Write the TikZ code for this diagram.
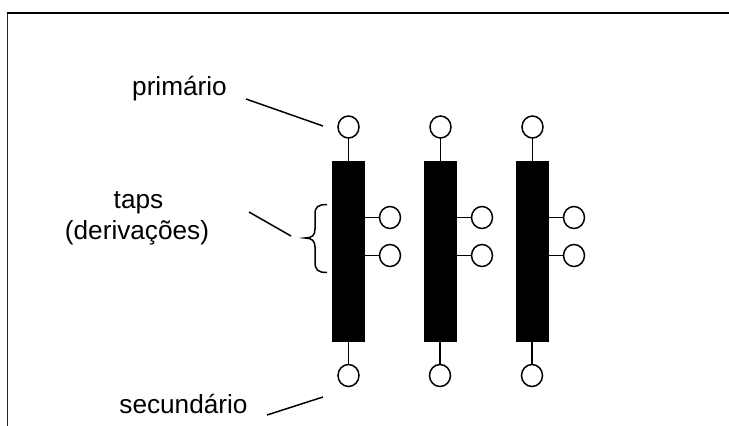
\documentclass[tikz,border=0pt]{standalone}
\usepackage{fontspec}
\setmainfont{Liberation Sans}
\usetikzlibrary{shapes.geometric}
\tikzset{
  wire/.style={line width=1.5pt,black},
  core/.style={draw=none,fill=black,minimum width=33pt,minimum height=181pt,inner sep=0pt,outer sep=0pt},
  term/.style={ellipse,draw=black,line width=1.5pt,fill=white,minimum width=21pt,minimum height=22pt,inner sep=0pt,outer sep=0pt},
  lab/.style={font=\fontsize{26.2}{30}\selectfont,inner sep=0pt,align=center,text=black},
}
\begin{document}
\begin{tikzpicture}[x=1pt,y=-1pt]
\useasboundingbox (0,0) rectangle (729,426);
\fill[white] (0,0) rectangle (729,426);
% frame
\coordinate (fbl) at (7.5,426);
\coordinate (ftl) at (7.5,13);
\coordinate (ftr) at (729,13);
\draw[line width=1.5pt,black!85] (fbl) -- (ftl);
\draw[line width=2pt,black] (6.5,13) -- (ftr);
% cores, terminals
\foreach \n/\x/\bx/\rx in {a/348.5/348.5/390,b/440.5/440/482,c/532.5/532/574}{
  \node[core] (core\n) at (\x,251.5) {};
  \node[term] (top\n) at (\x,127) {};
  \node[term] (bot\n) at (\bx,375.5) {};
  \node[term] (tapu\n) at (\rx,217.5) {};
  \node[term] (tapl\n) at (\rx,255.5) {};
  \draw[wire] (top\n.south) -- (top\n.south |- core\n.north);
  \draw[wire] (bot\n.north) -- (bot\n.north |- core\n.south);
  \draw[wire] (tapu\n.west) -- (tapu\n.west -| core\n.east);
  \draw[wire] (tapl\n.west) -- (tapl\n.west -| core\n.east);
}
% labels
\node[lab,anchor=base] (prim) at (179.5,95) {primário};
\node[lab,anchor=base] (taps) at (138.5,208) {taps};
\node[lab,anchor=base] (deriv) at (137,239) {(derivações)};
\node[lab,anchor=base] (sec) at (183.5,413) {secundário};
% leaders
\coordinate (l1a) at (246,99);  \coordinate (l1b) at (323,126);
\coordinate (l2a) at (249,212); \coordinate (l2b) at (291,236);
\coordinate (l3a) at (267,415); \coordinate (l3b) at (323,397);
\draw[wire] (l1a) -- (l1b);
\draw[wire] (l2a) -- (l2b);
\draw[wire] (l3a) -- (l3b);
% brace
\coordinate (bt) at (327,204.5);
\coordinate (bm) at (305,238);
\coordinate (bb) at (327,272.5);
\draw[wire] (bt) .. controls (318,204.5) and (315,207) .. (315,214)
  -- (315,229) .. controls (315,235.5) and (312,238) .. (bm)
  .. controls (312,238) and (315,241) .. (315,247)
  -- (315,262) .. controls (315,270) and (318,272.5) .. (bb);
\end{tikzpicture}
\end{document}
